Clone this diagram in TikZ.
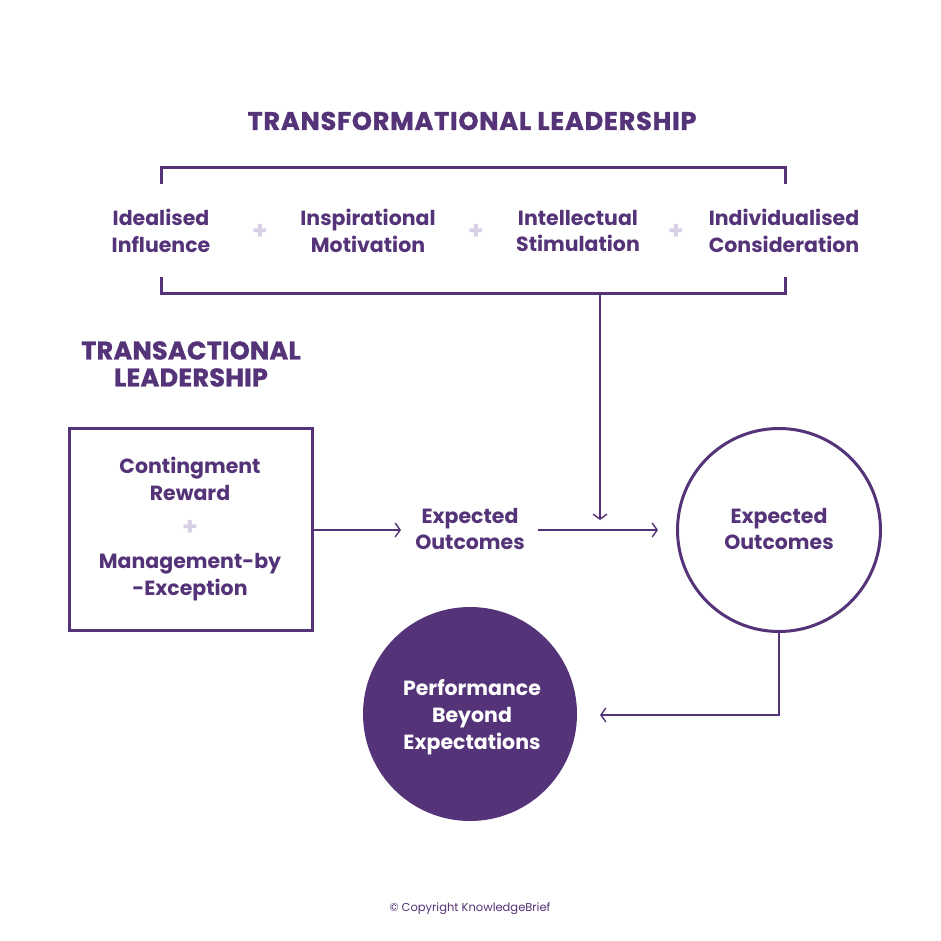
\documentclass[tikz,border=0pt]{standalone}
\usepackage{fontspec}
\setmainfont{Poppins}
\usetikzlibrary{arrows.meta}
\definecolor{pmain}{HTML}{553378}
\definecolor{plight}{HTML}{D9D0E6}
\tikzset{
  lbl/.style={text=pmain, font=\bfseries\fontsize{20.5}{26.5}\selectfont, align=center, inner sep=2pt},
  ttl/.style={text=pmain, font=\bfseries\fontsize{25.5}{27}\selectfont\addfontfeature{FakeBold=1.2,LetterSpace=1}, align=center, inner sep=0pt},
  bigttl/.style={ttl, font=\bfseries\fontsize{25.5}{27}\selectfont\addfontfeature{FakeBold=1.2,LetterSpace=3.3}},
  plus/.style={text=plight, font=\bfseries\fontsize{25}{25}\selectfont, inner sep=0pt},
  thick line/.style={draw=pmain, line width=3pt},
  conn/.style={draw=pmain, line width=1.4pt, -{Straight Barb[length=5pt,width=14pt,line width=1.4pt]}},
}
\begin{document}
\begin{tikzpicture}[x=1pt,y=-1pt]
\useasboundingbox[fill=white] (0,0) rectangle (941,941);
% title
\node[bigttl] (t1) at (472,121) {TRANSFORMATIONAL LEADERSHIP};
% bracket
\coordinate (b1) at (161,184);
\coordinate (b2) at (161,168);
\coordinate (b3) at (785,168);
\coordinate (b4) at (785,184);
\coordinate (b5) at (161,277);
\coordinate (b6) at (161,293);
\coordinate (b7) at (785,293);
\coordinate (b8) at (785,277);
\draw[thick line, line cap=butt, line join=miter] (b1) -- (b2) -- (b3) -- (b4);
\draw[thick line, line cap=butt, line join=miter] (b5) -- (b6) -- (b7) -- (b8);
% four components
\node[lbl] (f1) at (161,231) {Idealised\\Influence};
\node[lbl] (f2) at (368,231) {Inspirational\\Motivation};
\node[lbl] (f3) at (578,231) {Intellectual\\Stimulation};
\node[lbl] (f4) at (784,231) {Individualised\\Consideration};
\node[plus] (p1) at (260,232) {+};
\node[plus] (p2) at (476,232) {+};
\node[plus] (p3) at (676,232) {+};
% transactional
\node[ttl] (t2) at (191,364) {TRANSACTIONAL\\LEADERSHIP};
\node[draw=pmain, line width=3pt, minimum width=243pt, minimum height=202pt, inner sep=0pt] (box) at (190.5,529) {};
\node[lbl] (c1) at (190,479) {Contingment\\Reward};
\node[plus] (p4) at (190,528) {+};
\node[lbl] (c2) at (190,577) {Management-by\\-Exception};
% expected outcomes
\node[lbl] (eo) at (470,529) {Expected\\Outcomes};
\node[circle, draw=pmain, line width=3pt, minimum size=203pt, inner sep=0pt] (circ) at (779,530) {};
\node[lbl] (eo2) at (779,529) {Expected\\Outcomes};
\node[circle, fill=pmain, minimum size=214pt, inner sep=0pt] (pb) at (470,714) {};
\node[lbl, text=white, font=\bfseries\fontsize{20.5}{27}\selectfont] (pbt) at (472,717) {Performance\\Beyond\\Expectations};
% connectors
\coordinate (brb) at (600,293);
\coordinate (dn) at (600,520);
\draw[conn] (brb) -- (dn);
\draw[conn, shorten >=-1pt] (box.east |- 0,530) -- (400,530) coordinate (a1);
\coordinate (a2s) at (538,530);
\coordinate (a2e) at (658,530);
\draw[conn] (a2s) -- (a2e);
\draw[conn, shorten >=0pt] (circ.south) |- (600,715) coordinate (a3);
% copyright
\node[text=pmain, font=\fontsize{11.5}{13}\selectfont, inner sep=0pt] (cp) at (470,909) {© Copyright KnowledgeBrief};
\end{tikzpicture}
\end{document}
